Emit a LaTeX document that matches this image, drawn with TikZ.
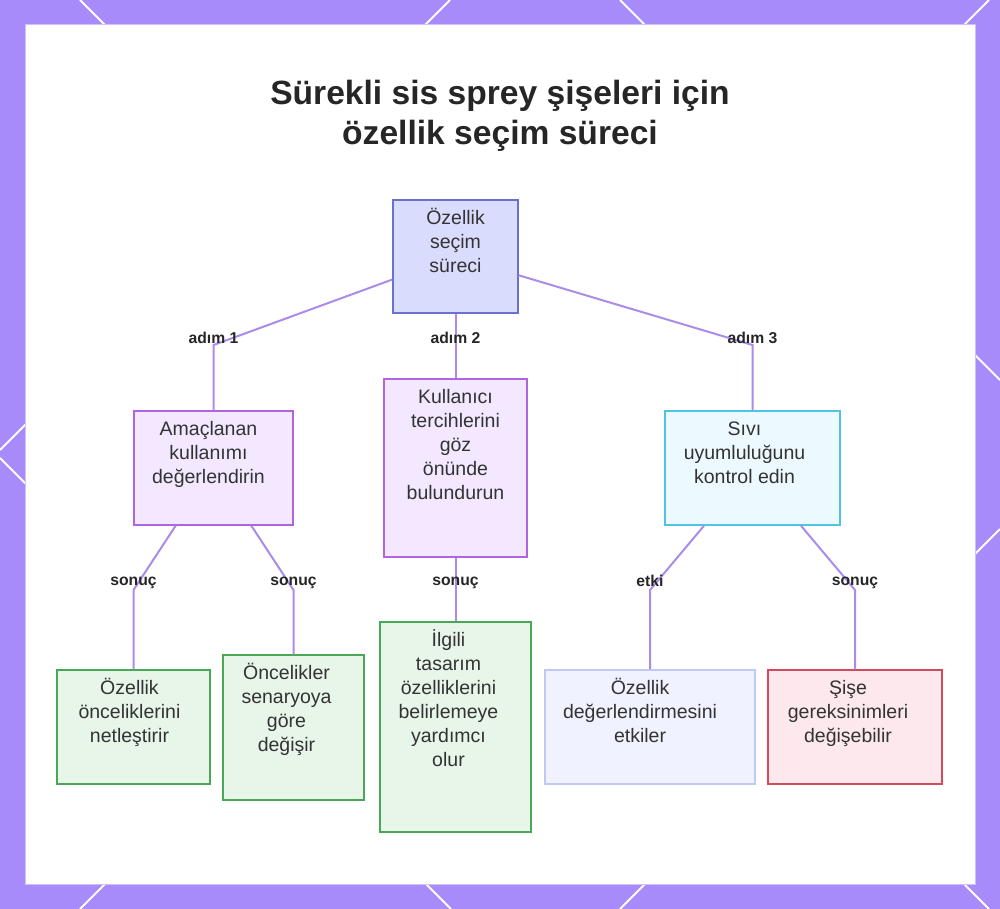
\documentclass[tikz,border=0pt]{standalone}
\usepackage{fontspec}
\setmainfont{Liberation Sans}
\usepackage{tikz}
\usetikzlibrary{positioning,calc}
\definecolor{framecol}{RGB}{167,139,250}
\definecolor{linkcol}{RGB}{170,140,235}
\definecolor{rootfill}{RGB}{217,220,252}
\definecolor{rootline}{RGB}{104,114,206}
\definecolor{stepfill}{RGB}{243,232,255}
\definecolor{stepline}{RGB}{176,100,224}
\definecolor{cyanfill}{RGB}{236,250,255}
\definecolor{cyanline}{RGB}{80,196,228}
\definecolor{okfill}{RGB}{232,245,233}
\definecolor{okline}{RGB}{72,168,88}
\definecolor{infofill}{RGB}{240,243,255}
\definecolor{infoline}{RGB}{192,200,246}
\definecolor{warnfill}{RGB}{253,233,237}
\definecolor{warnline}{RGB}{212,74,92}
\definecolor{txtcol}{RGB}{51,51,51}

\begin{document}
\begin{tikzpicture}[x=1pt, y=-1pt,
  box/.style={draw, line width=1.4pt, inner sep=0pt},
  txt/.style={anchor=base, align=center, text=txtcol, font=\fontsize{19.5}{24}\selectfont},
  link/.style={draw=linkcol, line width=2pt},
  lbl/.style={font=\fontsize{15.7}{18}\selectfont\bfseries, text=black!85, yshift=7pt},
]
\useasboundingbox (0,0) rectangle (1000,909);
% Frame
\fill[framecol] (0,0) rectangle (1000,909);
\draw[white, line width=2pt] (80,0) -- (989,909) (989,0) -- (80,909)
  (450,0) -- (0,450) (0,458) -- (451,909)
  (620,0) -- (1000,380) (1000,529) -- (620,909);
\fill[white] (25,25) rectangle (975,884);
\draw[framecol!55, line width=1pt] (25,25) rectangle (975,884);
% Title
\node[font=\fontsize{33.6}{40}\selectfont\bfseries, align=center, text=black!85] (title) at (500,116)
  {Sürekli sis sprey şişeleri için\\özellik seçim süreci};
% Root (text base = last line)
\node[box, fill=rootfill, draw=rootline, minimum width=125pt, minimum height=113pt] (root) at (455.5,256.5) {};
\node[txt] (root-t) at ($(root.north)+(0,73)$) {Özellik\\seçim\\süreci};
% Steps
\node[box, fill=stepfill, draw=stepline, minimum width=159pt, minimum height=114pt] (amac) at (213.5,468) {};
\node[txt] (amac-t) at ($(amac.north)+(-5,73.5)$) {Amaçlanan\\kullanımı\\değerlendirin};
\node[box, fill=stepfill, draw=stepline, minimum width=143pt, minimum height=178pt] (kull) at (455.5,468) {};
\node[txt] (kull-t) at ($(kull.north)+(0,121)$) {Kullanıcı\\tercihlerini\\göz\\önünde\\bulundurun};
\node[box, fill=cyanfill, draw=cyanline, minimum width=175pt, minimum height=114pt] (sivi) at (752.5,468) {};
\node[txt] (sivi-t) at ($(sivi.north)+(-8,73.5)$) {Sıvı\\uyumluluğunu\\kontrol edin};
% Results
\node[box, fill=okfill, draw=okline, minimum width=153pt, minimum height=114pt] (ozel) at (133.5,727) {};
\node[txt] (ozel-t) at ($(ozel.north)+(-4,73.5)$) {Özellik\\önceliklerini\\netleştirir};
\node[box, fill=okfill, draw=okline, minimum width=141pt, minimum height=145pt] (oncel) at (293.5,727.5) {};
\node[txt] (oncel-t) at ($(oncel.north)+(-7,97)$) {Öncelikler\\senaryoya\\göre\\değişir};
\node[box, fill=okfill, draw=okline, minimum width=151pt, minimum height=210pt] (ilgili) at (455.5,727) {};
\node[txt] (ilgili-t) at ($(ilgili.north)+(-7,145)$) {İlgili\\tasarım\\özelliklerini\\belirlemeye\\yardımcı\\olur};
\node[box, fill=infofill, draw=infoline, minimum width=210pt, minimum height=114pt] (etk) at (650,727) {};
\node[txt] (etk-t) at ($(etk.north)+(-10,73.5)$) {Özellik\\değerlendirmesini\\etkiler};
\node[box, fill=warnfill, draw=warnline, minimum width=174pt, minimum height=114pt] (sise) at (855,727) {};
\node[txt] (sise-t) at ($(sise.north)+(-7,73.5)$) {Şişe\\gereksinimleri\\değişebilir};
% Bends
\coordinate (b1) at (213.5,345);
\coordinate (b2) at (455.5,345);
\coordinate (b3) at (752.5,345);
\coordinate (c1) at (133.5,590);
\coordinate (c2) at (293.5,590);
\coordinate (c3) at (455.5,590);
\coordinate (c4) at (650,590);
\coordinate (c5) at (855,590);
% Connectors
\draw[link] (root) -- (b1) -- (amac.north);
\draw[link] (root) -- (kull);
\draw[link] (root) -- (b3) -- (sivi.north);
\draw[link] (amac) -- (c1) -- (ozel.north);
\draw[link] (amac) -- (c2) -- (oncel.north);
\draw[link] (kull) -- (ilgili);
\draw[link] (sivi) -- (c4) -- (etk.north);
\draw[link] (sivi) -- (c5) -- (sise.north);
% Labels
\node[lbl] (l1) at (b1) {adım 1};
\node[lbl] (l2) at (b2) {adım 2};
\node[lbl] (l3) at (b3) {adım 3};
\node[lbl] (l4) at (c1) {sonuç};
\node[lbl] (l5) at (c2) {sonuç};
\node[lbl] (l6) at (c3) {sonuç};
\node[lbl, yshift=2pt] (l7) at (c4) {etki};
\node[lbl] (l8) at (c5) {sonuç};
\end{tikzpicture}
\end{document}
